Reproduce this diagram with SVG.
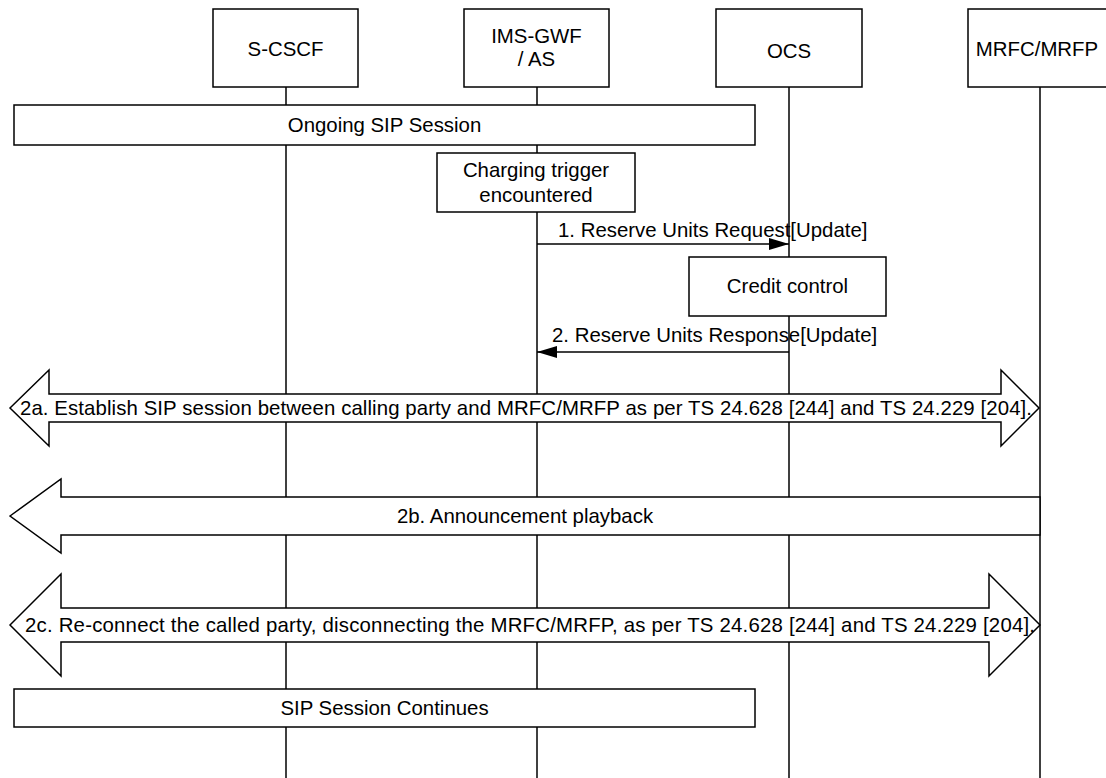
<svg xmlns="http://www.w3.org/2000/svg" width="1106" height="778" viewBox="0 0 1106 778">
<style>
  .box{fill:#fff;stroke:#000;stroke-width:1.5}
  .life{stroke:#000;stroke-width:1.5;fill:none}
  .msg{stroke:#000;stroke-width:1.5;fill:none}
  .big{fill:#fff;stroke:#000;stroke-width:1.5;stroke-linejoin:miter}
  text{font-family:"Liberation Sans",Arial,sans-serif;font-size:20.4px;fill:#000}
  .c{text-anchor:middle}
</style>
<defs>
  <marker id="ah" markerWidth="20" markerHeight="12" refX="20" refY="6" orient="auto" markerUnits="userSpaceOnUse">
    <path d="M0,0 L20,6 L0,12 Z" fill="#000"/>
  </marker>
</defs>
<rect width="1106" height="778" fill="#fff"/>
<g id="lifelines">
  <line class="life" x1="286" y1="87" x2="286" y2="778"/>
  <line class="life" x1="537" y1="87" x2="537" y2="778"/>
  <line class="life" x1="789" y1="87" x2="789" y2="778"/>
  <line class="life" x1="1040" y1="87" x2="1040" y2="778"/>
</g>
<g id="node-scscf">
  <rect class="box" x="213" y="9" width="145" height="78"/>
  <text class="c" x="285.5" y="56">S-CSCF</text>
</g>
<g id="node-imsgwf">
  <rect class="box" x="464" y="9" width="145" height="78"/>
  <text class="c" x="536.5" y="43">IMS-GWF</text>
  <text class="c" x="536.5" y="66">/ AS</text>
</g>
<g id="node-ocs">
  <rect class="box" x="716" y="9" width="146" height="78"/>
  <text class="c" x="789" y="58">OCS</text>
</g>
<g id="node-mrfc">
  <rect class="box" x="968" y="9" width="150" height="78"/>
  <text class="c" x="1037" y="56">MRFC/MRFP</text>
</g>
<g id="node-ongoing">
  <rect class="box" x="14" y="105" width="741" height="40"/>
  <text class="c" x="384.5" y="132">Ongoing SIP Session</text>
</g>
<g id="node-charging">
  <rect class="box" x="437" y="153" width="198" height="59"/>
  <text class="c" x="536" y="177">Charging trigger</text>
  <text class="c" x="536" y="202">encountered</text>
</g>
<g id="node-credit">
  <rect class="box" x="689" y="257" width="197" height="59"/>
  <text class="c" x="787.5" y="293">Credit control</text>
</g>
<g id="connectors">
  <g id="msg1">
    <text x="558" y="237">1. Reserve Units Request[Update]</text>
    <line class="msg" x1="537" y1="244" x2="789" y2="244" marker-end="url(#ah)"/>
  </g>
  <g id="msg2">
    <text x="552" y="342">2. Reserve Units Response[Update]</text>
    <line class="msg" x1="789" y1="352" x2="537" y2="352" marker-end="url(#ah)"/>
  </g>
  <g id="msg2a">
    <polygon class="big" points="10,408 49,370 49,394 1001,394 1001,370 1039,408 1001,446 1001,422 49,422 49,446"/>
    <text x="20" y="415" textLength="1012" lengthAdjust="spacing">2a. Establish SIP session between calling party and MRFC/MRFP as per TS 24.628 [244] and TS 24.229 [204].</text>
  </g>
  <g id="msg2b">
    <polygon class="big" points="10,516 61,479 61,497 1040,497 1040,535 61,535 61,553"/>
    <text class="c" x="525" y="523">2b. Announcement playback</text>
  </g>
  <g id="msg2c">
    <polygon class="big" points="10,625 61,574 61,608 989,608 989,574 1040,625 989,676 989,642 61,642 61,676"/>
    <text x="25" y="632" textLength="1010" lengthAdjust="spacing">2c. Re-connect the called party, disconnecting the MRFC/MRFP, as per TS 24.628 [244] and TS 24.229 [204].</text>
  </g>
</g>
<g id="node-continues">
  <rect class="box" x="14" y="689" width="741" height="38"/>
  <text class="c" x="384.5" y="715">SIP Session Continues</text>
</g>
</svg>
